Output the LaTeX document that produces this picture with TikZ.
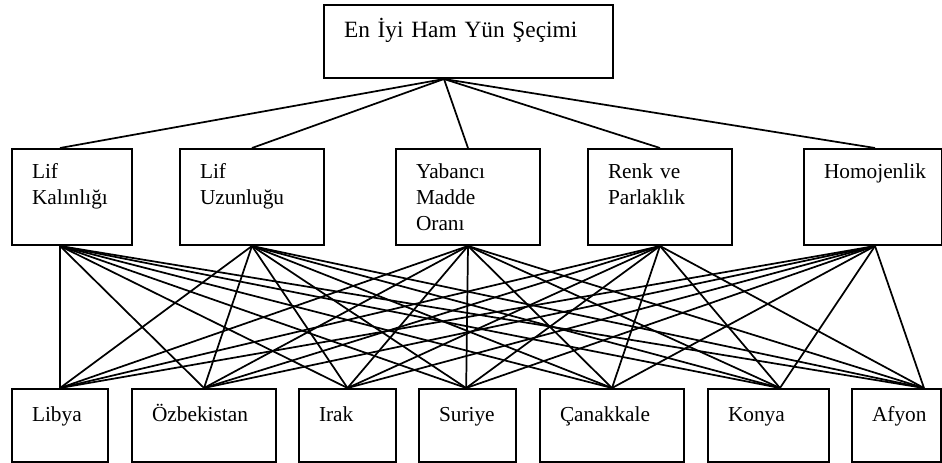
\documentclass[tikz,border=0pt]{standalone}
\usepackage{fontspec}
\setmainfont{Liberation Serif}
\tikzset{
    kutu/.style={draw,line width=1.5pt,anchor=north west,inner xsep=15pt,inner ysep=0pt,align=left},
    ana/.style={kutu,font=\fontsize{17.5}{22}\selectfont,text height=24.75pt,text depth=30pt},
    kriter/.style={kutu,font=\fontsize{16}{19.5}\selectfont,text height=22.5pt,text depth=49.5pt},
    secenek/.style={kutu,font=\fontsize{16}{19.5}\selectfont,text height=24pt,text depth=30.75pt},
    bag/.style={line width=1.3pt},
}

\begin{document}
\begin{tikzpicture}[x=0.75pt,y=-0.75pt]
            \useasboundingbox (0,0) rectangle (942,463);
            % amac
            \node[ana,text width=186.75pt] (secim) at (323,4){En İyi Ham Yün Şeçimi};
            % kriterler
            \node[kriter,text width=60pt] (kalinlik) at (11,148){Lif\\Kalınlığı};
            \node[kriter,text width=78pt] (uzunluk) at (179,148){Lif\\Uzunluğu};
            \node[kriter,text width=78pt] (yabanci) at (395,148){Yabancı\\Madde\\Oranı};
            \node[kriter,text width=78pt] (renk) at (587,148){Renk ve\\Parlaklık};
            \node[kriter,text width=73.5pt] (homojenlik) at (803,148){Homojenlik};
            % alternatifler
            \node[secenek,text width=42pt] (libya) at (11,388){Libya};
            \node[secenek,text width=78pt] (ozbekistan) at (131,388){Özbekistan};
            \node[secenek,text width=42.75pt] (irak) at (298,388){Irak};
            \node[secenek,text width=42.75pt] (suriye) at (418,388){Suriye};
            \node[secenek,text width=78pt] (canakkale) at (539,388){Çanakkale};
            \node[secenek,text width=60.75pt] (konya) at (707,388){Konya};
            \node[secenek,text width=36.75pt] (afyon) at (851,388){Afyon};
            % baglantilar
            \foreach \k/\dk in {kalinlik/-9pt,uzunluk/0pt,yabanci/0pt,renk/0pt,homojenlik/1.5pt}{
                \draw[bag] ([xshift=-18.4pt]secim.south)--([xshift=\dk]\k.north);
                \foreach \s/\ds in {libya/0pt,ozbekistan/0pt,irak/0pt,suriye/-1pt,canakkale/0pt,konya/8.6pt,afyon/20.6pt}
                    \draw[bag] ([xshift=\dk]\k.south)--([xshift=\ds]\s.north);
            }
        \end{tikzpicture}
\end{document}
